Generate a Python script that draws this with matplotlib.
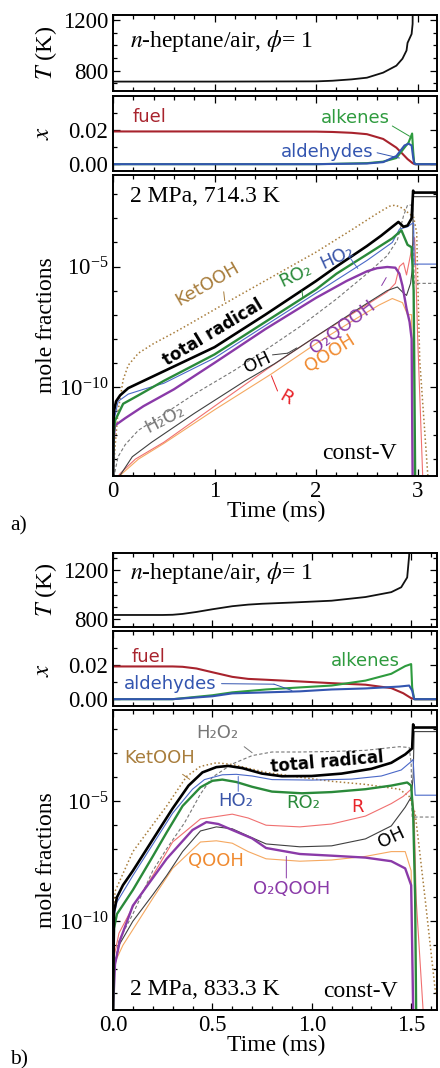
import numpy as np
import matplotlib
matplotlib.use("Agg")
import matplotlib.pyplot as plt
from matplotlib.ticker import FixedLocator, NullFormatter, FormatStrFormatter

plt.rcParams['font.family'] = ['Liberation Serif', 'DejaVu Serif']
plt.rcParams['mathtext.fontset'] = 'stix'

# ---------------- panel a data (714.3 K) ----------------
TA_TIME = [0.0, 1.0, 2.0, 2.16, 2.35, 2.5, 2.66, 2.79, 2.85, 2.89, 2.9, 2.94, 2.95, 2.96, 3.2]
TA_TEMP = [714.3, 714.3, 716, 721, 732, 745, 785, 840, 895, 960, 1020, 1090, 1170, 2500, 2600]

XA_TIME = [0.0, 1.0, 2.0, 2.16, 2.35, 2.5, 2.66, 2.79, 2.85, 2.9, 2.95, 2.97, 3.0, 3.2]
XA_FUEL = [0.0192, 0.0192, 0.0191, 0.0189, 0.0184, 0.0176, 0.0148, 0.0097, 0.0061, 0.0030, 0.0006, 0.0, 0.0, 0.0]
XA_ALKT = [0.0, 2.0, 2.5, 2.66, 2.79, 2.87, 2.91, 2.945, 2.955, 2.965, 2.98, 3.2]
XA_ALKE = [0.0, 0.0, 0.0006, 0.0015, 0.0036, 0.0097, 0.0127, 0.018, 0.008, 0.001, 0.0, 0.0]
XA_ALDT = [0.0, 2.0, 2.5, 2.66, 2.79, 2.87, 2.91, 2.94, 2.955, 2.965, 2.98, 3.2]
XA_ALDE = [0.0, 0.0, 0.0004, 0.0012, 0.0048, 0.011, 0.012, 0.011, 0.004, 0.0005, 0.0, 0.0]

# log10 mole fractions
MA_TOT_T = [0.0, 0.004, 0.01, 0.03, 0.07, 0.15, 0.3, 0.5, 1.0, 1.5, 2.0, 2.2, 2.5, 2.64, 2.75, 2.81, 2.86, 2.9, 2.94, 2.955, 2.96, 3.2]
MA_TOT_L = [-13.8, -11.5, -11.0, -10.6, -10.35, -10.05, -9.75, -9.35, -8.35, -7.0, -5.6, -5.0, -4.15, -3.72, -3.35, -3.15, -3.35, -3.3, -3.0, -1.85, -1.93, -1.93]
MA_RO2_T = [0.0, 0.005, 0.02, 0.1, 0.25, 0.5, 1.0, 1.5, 2.0, 2.2, 2.5, 2.75, 2.84, 2.9, 2.94, 2.96, 2.975]
MA_RO2_L = [-13.8, -12.0, -11.4, -10.7, -10.35, -9.75, -8.65, -7.3, -5.95, -5.3, -4.5, -3.83, -3.5, -4.1, -4.2, -6.0, -13.8]
MA_HO2_T = [0.0, 0.005, 0.05, 0.15, 0.3, 0.5, 1.0, 1.5, 2.0, 2.5, 2.75, 2.82, 2.9, 2.95, 2.96, 2.965, 3.2]
MA_HO2_L = [-13.8, -11.5, -10.6, -10.3, -10.1, -9.85, -8.8, -7.45, -6.1, -4.75, -4.0, -3.45, -3.35, -3.2, -3.2, -4.9, -4.9]
MA_O2Q_T = [0.0, 0.01, 0.02, 0.12, 0.3, 0.6, 1.0, 1.5, 2.0, 2.3, 2.5, 2.6, 2.7, 2.78, 2.82, 2.85, 2.89, 2.92, 2.94, 2.95]
MA_O2Q_L = [-13.8, -12.0, -11.6, -11.3, -10.8, -10.1, -9.0, -7.6, -6.3, -5.6, -5.2, -5.07, -5.02, -5.05, -5.3, -5.8, -6.75, -7.3, -8.0, -13.8]
MA_H2O2_T = [0.0, 0.02, 0.05, 0.12, 0.25, 0.44, 0.8, 1.2, 1.56, 1.84, 2.2, 2.5, 2.7, 2.8, 2.86, 2.9, 2.94, 2.955, 2.965, 3.2]
MA_H2O2_L = [-14.0, -13.5, -12.9, -12.4, -11.8, -11.3, -10.3, -9.3, -8.3, -7.5, -6.35, -5.3, -4.55, -3.9, -2.9, -2.45, -2.45, -2.6, -5.7, -5.7]
MA_OH_T = [0.0, 0.05, 0.19, 0.38, 0.8, 1.3, 1.59, 2.0, 2.4, 2.7, 2.8, 2.86, 2.89, 2.93, 2.95, 2.955, 3.2]
MA_OH_L = [-14.0, -13.8, -12.9, -12.3, -11.1, -9.75, -9.04, -7.9, -6.8, -6.0, -5.85, -6.1, -6.2, -5.7, -5.0, -2.1, -2.1]
MA_R_T = [0.0, 0.07, 0.22, 0.5, 1.0, 1.52, 2.0, 2.4, 2.7, 2.78, 2.82, 2.86, 2.89, 2.93, 2.95, 2.97, 2.98, 3.0, 3.05]
MA_R_L = [-14.0, -13.6, -13.0, -12.3, -10.8, -9.25, -7.9, -6.85, -6.05, -5.7, -5.0, -4.85, -5.35, -4.5, -4.1, -3.8, -5.0, -8.0, -13.8]
MA_QOOH_T = [0.0, 0.09, 0.25, 0.5, 1.0, 1.56, 2.0, 2.4, 2.62, 2.75, 2.85, 2.9, 2.94, 2.95]
MA_QOOH_L = [-14.0, -13.6, -13.0, -12.35, -10.95, -9.46, -8.2, -7.15, -6.6, -6.33, -6.5, -7.0, -7.0, -13.8]
MA_KET_T = [0.0, 0.02, 0.05, 0.1, 0.15, 0.25, 0.4, 0.6, 0.76, 1.2, 1.6, 2.0, 2.36, 2.6, 2.72, 2.78, 2.85, 2.9, 2.96, 2.99, 3.0, 3.02, 3.1]
MA_KET_L = [-13.8, -12.5, -11.0, -9.7, -9.1, -8.6, -8.2, -7.75, -7.37, -6.3, -5.35, -4.4, -3.45, -2.8, -2.5, -2.45, -2.58, -2.75, -2.95, -3.6, -5.5, -8.9, -13.7]

# ---------------- panel b data (833.3 K) ----------------
TB_TIME = [0.0, 0.25, 0.3, 0.35, 0.42, 0.5, 0.6, 0.68, 0.75, 0.9, 1.1, 1.27, 1.4, 1.45, 1.48, 1.49, 1.5, 1.63]
TB_TEMP = [833.3, 833.3, 835, 842, 858, 880, 905, 918, 925, 935, 950, 980, 1020, 1060, 1140, 1320, 2500, 2600]

XB_TIME = [0.0, 0.3, 0.35, 0.42, 0.5, 0.6, 0.68, 0.77, 0.94, 1.1, 1.27, 1.4, 1.46, 1.5, 1.52, 1.63]
XB_FUEL = [0.0192, 0.0192, 0.019, 0.018, 0.0158, 0.0131, 0.0119, 0.0114, 0.0104, 0.0094, 0.0085, 0.0065, 0.0035, 0.0006, 0.0, 0.0]
XB_ALKT = [0.0, 0.3, 0.5, 0.6, 0.77, 0.94, 1.1, 1.27, 1.4, 1.47, 1.5, 1.505, 1.515, 1.63]
XB_ALKE = [0.0, 0.0, 0.0023, 0.004, 0.0057, 0.0069, 0.008, 0.0109, 0.0149, 0.0194, 0.0206, 0.007, 0.0, 0.0]
XB_ALDT = [0.0, 0.3, 0.5, 0.6, 0.77, 0.94, 1.1, 1.27, 1.44, 1.49, 1.505, 1.515, 1.63]
XB_ALDE = [0.0, 0.0, 0.0017, 0.0034, 0.004, 0.0046, 0.0057, 0.0063, 0.0074, 0.008, 0.005, 0.0, 0.0]

MB_TOT_T = [0.0, 0.005, 0.02, 0.05, 0.1, 0.2, 0.3, 0.38, 0.45, 0.52, 0.58, 0.65, 0.75, 0.85, 1.0, 1.15, 1.3, 1.4, 1.47, 1.505, 1.51, 1.515, 1.63]
MB_TOT_L = [-13.7, -9.6, -9.0, -8.5, -7.9, -6.6, -5.3, -4.35, -3.8, -3.58, -3.53, -3.62, -3.85, -3.96, -3.95, -3.85, -3.65, -3.4, -3.05, -2.8, -1.8, -1.93, -1.93]
MB_RO2_T = [0.0, 0.005, 0.02, 0.1, 0.2, 0.27, 0.35, 0.44, 0.5, 0.55, 0.62, 0.7, 0.8, 0.95, 1.1, 1.27, 1.4, 1.48, 1.5, 1.51, 1.52, 1.525]
MB_RO2_L = [-13.7, -10.3, -9.7, -8.7, -7.3, -6.3, -5.2, -4.42, -4.15, -4.1, -4.2, -4.4, -4.6, -4.67, -4.62, -4.5, -4.35, -4.22, -4.35, -5.5, -9.0, -13.7]
MB_HO2_T = [0.0, 0.005, 0.02, 0.1, 0.2, 0.3, 0.4, 0.46, 0.55, 0.62, 0.7, 0.8, 1.0, 1.2, 1.35, 1.45, 1.5, 1.51, 1.52, 1.63]
MB_HO2_L = [-13.7, -9.8, -9.2, -8.1, -6.8, -5.5, -4.5, -4.1, -3.9, -3.88, -3.95, -4.1, -4.12, -4.08, -3.95, -3.7, -3.35, -3.26, -4.75, -4.75]
MB_O2Q_T = [0.0, 0.01, 0.035, 0.1, 0.27, 0.4, 0.47, 0.53, 0.6, 0.7, 0.77, 0.94, 1.1, 1.27, 1.4, 1.47, 1.5, 1.505, 1.51]
MB_O2Q_L = [-13.7, -11.8, -10.8, -9.35, -7.4, -6.2, -5.87, -5.95, -6.2, -6.55, -6.95, -7.2, -7.27, -7.35, -7.5, -7.8, -8.5, -11.0, -13.7]
MB_R_T = [0.0, 0.005, 0.03, 0.1, 0.2, 0.3, 0.44, 0.6, 0.68, 0.77, 0.94, 1.1, 1.27, 1.4, 1.46, 1.5, 1.515, 1.525, 1.56]
MB_R_L = [-13.7, -11.5, -10.5, -9.4, -8.1, -6.7, -5.74, -5.54, -5.7, -6.0, -6.07, -5.95, -5.62, -5.1, -4.8, -4.5, -5.5, -9.05, -13.7]
MB_OH_T = [0.0, 0.005, 0.03, 0.1, 0.2, 0.27, 0.35, 0.44, 0.52, 0.6, 0.68, 0.77, 0.94, 1.1, 1.27, 1.4, 1.47, 1.5, 1.51, 1.515, 1.63]
MB_OH_L = [-13.7, -12.0, -11.0, -10.0, -8.9, -8.1, -7.1, -6.24, -6.07, -6.15, -6.45, -6.78, -6.9, -6.86, -6.57, -6.03, -5.25, -4.83, -4.0, -2.1, -2.1]
MB_QOOH_T = [0.0, 0.005, 0.05, 0.2, 0.3, 0.44, 0.52, 0.6, 0.68, 0.77, 0.94, 1.1, 1.27, 1.4, 1.47, 1.5, 1.505, 1.51]
MB_QOOH_L = [-13.7, -11.8, -11.0, -9.05, -7.8, -6.7, -6.65, -6.75, -7.1, -7.4, -7.5, -7.45, -7.3, -7.1, -7.1, -7.9, -11.0, -13.7]
MB_H2O2_T = [0.0, 0.005, 0.03, 0.1, 0.2, 0.27, 0.36, 0.44, 0.5, 0.6, 0.7, 0.8, 0.94, 1.1, 1.27, 1.44, 1.49, 1.5, 1.505, 1.63]
MB_H2O2_L = [-13.7, -12.0, -10.8, -9.7, -7.9, -6.98, -5.9, -4.7, -4.0, -3.45, -3.1, -2.95, -2.95, -2.93, -2.88, -2.73, -2.76, -3.4, -5.66, -5.66]
MB_KET_T = [0.0, 0.005, 0.01, 0.1, 0.27, 0.37, 0.44, 0.52, 0.6, 0.77, 0.94, 1.1, 1.27, 1.44, 1.49, 1.52, 1.54, 1.57, 1.62, 1.65]
MB_KET_L = [-13.7, -10.0, -8.76, -7.1, -5.2, -3.97, -3.55, -3.4, -3.47, -3.8, -4.0, -4.17, -4.3, -4.5, -4.8, -5.5, -6.9, -9.05, -12.8, -13.7]

# ---------------- styling ----------------
C_BLACK = '#000000'
C_RO2 = '#2a8a3a'
C_HO2 = '#4a68c8'
C_HO2_TXT = '#3a55a8'
C_O2Q = '#8a3aa8'
C_R = '#f07070'
C_R_TXT = '#e8242a'
C_QOOH = '#f5a860'
C_QOOH_TXT = '#f08a30'
C_OH = '#404040'
C_H2O2 = '#777777'
C_KET = '#a87d3c'
C_FUEL = '#a8232d'
C_ALK = '#2e9b3e'
C_ALD = '#3355b0'

W, H = 440, 1068
fig = plt.figure(figsize=(W / 100, H / 100), dpi=100)


def rect(l, t, r, b):
    return [l / W, 1 - b / H, (r - l) / W, (b - t) / H]


TICK_FS = 16.5
SANS = ['DejaVu Sans']
LAB_FS = 13
BOLD_FS = 12
BIG_FS = 17


def style(ax):
    for s in ax.spines.values():
        s.set_linewidth(1.4)
    ax.tick_params(which='both', direction='in', top=True, right=True,
                   width=0.9, labelsize=TICK_FS, pad=3.5)
    ax.tick_params(which='major', length=5)
    ax.tick_params(which='minor', length=3)


def logline(ax, t, lg, **kw):
    ax.plot(t, 10.0 ** np.asarray(lg), **kw)


def leader(ax, p1, p2, color, log=True):
    y1 = 10.0 ** p1[1] if log else p1[1]
    y2 = 10.0 ** p2[1] if log else p2[1]
    ax.annotate('', xy=(p2[0], y2), xytext=(p1[0], y1),
                arrowprops=dict(arrowstyle='-', color=color, lw=0.7,
                                shrinkA=0, shrinkB=0))


def lab(ax, t, lg, s, color, rot=0, bold=False, fs=LAB_FS):
    ax.text(t, 10.0 ** lg, s, color=color, rotation=rot, ha='center',
            va='center', family=SANS, fontsize=BOLD_FS if bold else fs,
            fontweight='bold' if bold else 'normal', rotation_mode='anchor')


def build(top_t, top_x, top_m, bot_m, xmax, xmaj, xmin_step, xfmt,
          T_t, T_v, T_lim, X, M, labels_x, labels_m, cond_text, head_y):
    axT = fig.add_axes(rect(113, top_t[0], 437, top_t[1]))
    axX = fig.add_axes(rect(113, top_x[0], 437, top_x[1]))
    axM = fig.add_axes(rect(113, top_m, 437, bot_m))
    for ax in (axT, axX, axM):
        style(ax)
        ax.set_xlim(0, xmax)
        ax.xaxis.set_major_locator(FixedLocator(xmaj))
        ax.xaxis.set_minor_locator(FixedLocator(np.arange(0, xmax + 1e-9, xmin_step)))
    axT.set_xticklabels([])
    axX.set_xticklabels([])
    # temperature
    axT.plot(T_t, T_v, color='#111111', lw=1.3)
    axT.set_ylim(*T_lim)
    axT.yaxis.set_major_locator(FixedLocator([800, 1200]))
    axT.yaxis.set_minor_locator(FixedLocator([700, 900, 1000, 1100, 1300]))
    axT.text(0.052, head_y, r'$n$-heptane/air, $\phi$= 1', transform=axT.transAxes,
             fontsize=BIG_FS, va='center', ha='left')
    # mole fractions x
    for (tt, vv, c) in X:
        axX.plot(tt, vv, color=c, lw=1.5)
    axX.set_ylim(-0.004, 0.04)
    axX.yaxis.set_major_locator(FixedLocator([0.0, 0.02]))
    axX.yaxis.set_minor_locator(FixedLocator([0.01, 0.03]))
    axX.yaxis.set_major_formatter(FormatStrFormatter('%.2f'))
    for (t, v, s, c, ld) in labels_x:
        axX.text(t, v, s, color=c, ha='center', va='center', family=SANS,
                 fontsize=LAB_FS)
        if ld:
            for a, b in zip(ld[:-1], ld[1:]):
                leader(axX, a, b, c, log=False)
    # species
    axM.set_yscale('log')
    for (tt, ll, kw) in M:
        logline(axM, tt, ll, **kw)
    axM.set_ylim(10 ** -13.7, 10 ** -1.2)
    axM.yaxis.set_major_locator(FixedLocator([1e-10, 1e-5]))
    axM.yaxis.set_minor_locator(FixedLocator([10.0 ** k for k in range(-13, -1)]))
    axM.yaxis.set_minor_formatter(NullFormatter())
    axM.xaxis.set_major_formatter(FormatStrFormatter(xfmt))
    for item in labels_m:
        t, lg, s, c, rot, bold, ld, lc = item
        lab(axM, t, lg, s, c, rot=rot, bold=bold)
        if ld:
            for a, b in zip(ld[:-1], ld[1:]):
                leader(axM, a, b, lc)
    for (fx, fy, s, ha) in cond_text:
        axM.text(fx, fy, s, transform=axM.transAxes, fontsize=BIG_FS,
                 ha=ha, va='center')
    return axT, axX, axM


def species_a():
    return [
        (MA_KET_T, MA_KET_L, dict(color=C_KET, lw=1.1, ls=(0, (1, 1.6)))),
        (MA_QOOH_T, MA_QOOH_L, dict(color=C_QOOH, lw=0.8)),
        (MA_R_T, MA_R_L, dict(color=C_R, lw=0.8)),
        (MA_OH_T, MA_OH_L, dict(color=C_OH, lw=0.8)),
        (MA_H2O2_T, MA_H2O2_L, dict(color=C_H2O2, lw=0.8, ls=(0, (3, 2)))),
        (MA_O2Q_T, MA_O2Q_L, dict(color=C_O2Q, lw=1.7)),
        (MA_HO2_T, MA_HO2_L, dict(color=C_HO2, lw=0.8)),
        (MA_RO2_T, MA_RO2_L, dict(color=C_RO2, lw=1.7)),
        (MA_TOT_T, MA_TOT_L, dict(color=C_BLACK, lw=1.9)),
    ]


def species_b():
    return [
        (MB_KET_T, MB_KET_L, dict(color=C_KET, lw=1.1, ls=(0, (1, 1.6)))),
        (MB_QOOH_T, MB_QOOH_L, dict(color=C_QOOH, lw=0.8)),
        (MB_R_T, MB_R_L, dict(color=C_R, lw=0.8)),
        (MB_OH_T, MB_OH_L, dict(color=C_OH, lw=0.8)),
        (MB_H2O2_T, MB_H2O2_L, dict(color=C_H2O2, lw=0.8, ls=(0, (3, 2)))),
        (MB_O2Q_T, MB_O2Q_L, dict(color=C_O2Q, lw=1.7)),
        (MB_HO2_T, MB_HO2_L, dict(color=C_HO2, lw=0.8)),
        (MB_RO2_T, MB_RO2_L, dict(color=C_RO2, lw=1.7)),
        (MB_TOT_T, MB_TOT_L, dict(color=C_BLACK, lw=1.9)),
    ]


# ---------------- panel a ----------------
labels_xa = [
    (0.36, 0.0279, 'fuel', C_FUEL, None),
    (2.39, 0.0273, 'alkenes', C_ALK, [(2.75, 0.0224), (2.92, 0.0164)]),
    (2.11, 0.0073, 'aldehydes', C_ALD, [(2.6, 0.0067), (2.82, 0.0036)]),
]
labels_ma = [
    (0.93, -5.71, 'KetOOH', C_KET, 30, False, [(1.09, -6.05), (1.1, -6.42)], C_KET),
    (0.99, -7.75, 'total radical', C_BLACK, 31, True, None, None),
    (1.80, -5.37, 'RO\u2082', C_RO2, 25, False, [(1.86, -6.0), (1.87, -6.3)], C_RO2),
    (2.20, -4.62, 'HO\u2082', C_HO2_TXT, 25, False, [(2.33, -4.62), (2.41, -5.08)], C_HO2),
    (2.26, -7.5, 'O\u2082QOOH', C_O2Q, 37, False, [(2.645, -5.79), (2.69, -5.46)], C_O2Q),
    (1.42, -9.0, 'OH', C_BLACK, 25, False, [(1.57, -8.67), (1.72, -8.6), (1.81, -8.38)], C_OH),
    (2.14, -8.6, 'QOOH', C_QOOH_TXT, 32, False, None, None),
    (1.70, -10.45, 'R', C_R_TXT, -30, False, [(1.56, -9.54), (1.62, -10.17)], C_R_TXT),
    (0.51, -11.33, 'H\u2082O\u2082', C_H2O2, 27, False, None, None),
]
axTa, axXa, axMa = build(
    (15, 91), (96, 171), 175, 476, 3.19, [0, 1, 2, 3], 0.2, '%g',
    TA_TIME, TA_TEMP, (640, 1240),
    [(XA_TIME, XA_FUEL, C_FUEL), (XA_ALKT, XA_ALKE, C_ALK), (XA_ALDT, XA_ALDE, C_ALD)],
    species_a(), labels_xa, labels_ma,
    [(0.052, 0.927, '2 MPa, 714.3 K', 'left'), (0.877, 0.076, 'const-V', 'right')],
    0.66)

# ---------------- panel b ----------------
labels_xb = [
    (0.18, 0.0246, 'fuel', C_FUEL, None),
    (1.27, 0.0223, 'alkenes', C_ALK, None),
    (0.286, 0.0091, 'aldehydes', C_ALD, [(0.546, 0.0091), (0.81, 0.0088), (0.9, 0.0051)]),
]
labels_mb = [
    (0.526, -2.15, 'H\u2082O\u2082', C_H2O2, 0, False, [(0.66, -2.73), (0.70, -2.98)], C_H2O2),
    (0.236, -3.22, 'KetOOH', C_KET, 0, False, [(0.35, -3.88), (0.386, -4.09)], C_KET),
    (1.078, -3.39, 'total radical', C_BLACK, 5, True, None, None),
    (0.617, -5.0, 'HO\u2082', C_HO2_TXT, 0, False, [(0.63, -3.97), (0.63, -4.59)], C_HO2),
    (0.957, -5.08, 'RO\u2082', C_RO2, 0, False, None, None),
    (1.228, -5.25, 'R', C_R_TXT, 0, False, None, None),
    (1.40, -6.53, 'OH', C_BLACK, 25, False, None, None),
    (0.52, -7.48, 'QOOH', C_QOOH_TXT, 0, False, None, None),
    (0.897, -8.64, 'O\u2082QOOH', C_O2Q, 0, False, [(0.872, -7.3), (0.872, -8.2)], C_O2Q),
]
axTb, axXb, axMb = build(
    (553, 627), (631, 706), 710, 1010, 1.63, [0.0, 0.5, 1.0, 1.5], 0.1, '%.1f',
    TB_TIME, TB_TEMP, (735, 1340),
    [(XB_TIME, XB_FUEL, C_FUEL), (XB_ALKT, XB_ALKE, C_ALK), (XB_ALDT, XB_ALDE, C_ALD)],
    species_b(), labels_xb, labels_mb,
    [(0.052, 0.067, '2 MPa, 833.3 K', 'left'), (0.88, 0.063, 'const-V', 'right')],
    0.73)

# ---------------- axis titles ----------------
def ftext(px, py, s, **kw):
    fig.text(px / W, 1 - py / H, s, **kw)

for dy in (0, 537):
    ftext(46, 53 + dy, r'$T$ (K)', rotation=90, ha='center', va='center', fontsize=17.5)
    ftext(43, 133 + dy, r'$x$', rotation=90, ha='center', va='center', fontsize=18)
ftext(46, 325, 'mole fractions', rotation=90, ha='center', va='center', fontsize=BIG_FS)
ftext(46, 860, 'mole fractions', rotation=90, ha='center', va='center', fontsize=BIG_FS)
ftext(276, 511, 'Time (ms)', ha='center', va='center', fontsize=BIG_FS)
ftext(276, 1045, 'Time (ms)', ha='center', va='center', fontsize=BIG_FS)
ftext(19, 526, 'a)', ha='center', va='center', fontsize=15.5)
ftext(19, 1060, 'b)', ha='center', va='center', fontsize=15.5)

fig.savefig('out.png', dpi=100)
